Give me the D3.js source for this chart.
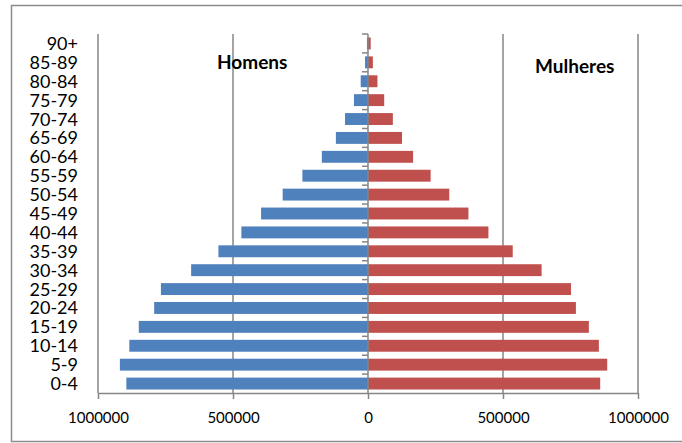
<!DOCTYPE html>
<html>
<head>
<meta charset="utf-8">
<script src="https://cdn.jsdelivr.net/npm/d3@7"></script>
<style>
  html, body { margin: 0; padding: 0; background: #fff; }
  svg { display: block; }
</style>
</head>
<body>
<svg id="chart" width="682" height="443"></svg>
<script>
const ageGroups = ["0-4","5-9","10-14","15-19","20-24","25-29","30-34","35-39","40-44","45-49","50-54","55-59","60-64","65-69","70-74","75-79","80-84","85-89","90+"];
const homens = [895000, 919000, 884000, 849000, 792000, 767000, 655000, 554000, 469000, 396000, 316000, 243000, 171000, 119000, 85000, 52000, 27000, 11000, 4000];
const mulheres = [860000, 886000, 855000, 818000, 770000, 752000, 643000, 536000, 446000, 372000, 301000, 232000, 167000, 126000, 92000, 60000, 35000, 18000, 10000];
const xTicks = [-1000000, -500000, 0, 500000, 1000000];
const seriesNames = ["Homens", "Mulheres"];

const svg = d3.select("#chart");
const W = 682, H = 443;
const plot = { left: 98, right: 638, top: 34, bottom: 393 };

// outer chart border
svg.append("rect")
  .attr("x", 11.5).attr("y", 5.5)
  .attr("width", 680).attr("height", 436)
  .attr("fill", "#fff").attr("stroke", "#8c8c8c").attr("stroke-width", 1.5);

const x = d3.scaleLinear().domain([-1000000, 1000000]).range([plot.left, plot.right]);
const y = d3.scaleBand().domain(ageGroups.slice().reverse()).range([plot.top, plot.bottom]).paddingInner(0.37).paddingOuter(0.185);
const yb = d3.scaleBand().domain(ageGroups.slice().reverse()).range([plot.top, plot.bottom]);

// gridlines
svg.append("g").selectAll("line")
  .data(xTicks.filter(d => d !== 0))
  .join("line")
  .attr("x1", d => x(d)).attr("x2", d => x(d))
  .attr("y1", plot.top).attr("y2", plot.bottom)
  .attr("stroke", "#868686").attr("stroke-width", 1.5);

// bars
const rows = ageGroups.map((g, i) => ({ g, m: homens[i], f: mulheres[i] }));
svg.append("g").selectAll("rect")
  .data(rows).join("rect")
  .attr("x", d => x(-d.m)).attr("width", d => x(0) - x(-d.m))
  .attr("y", d => y(d.g)).attr("height", y.bandwidth())
  .attr("fill", "#4F81BD");
svg.append("g").selectAll("rect")
  .data(rows).join("rect")
  .attr("x", x(0)).attr("width", d => x(d.f) - x(0))
  .attr("y", d => y(d.g)).attr("height", y.bandwidth())
  .attr("fill", "#C0504D");

// x axis
const xAxis = d3.axisBottom(x).tickValues(xTicks).tickSize(6).tickSizeOuter(0)
  .tickFormat(d => String(Math.abs(d)));
const gx = svg.append("g").attr("transform", `translate(0,${plot.bottom})`).call(xAxis);
gx.select(".domain").attr("stroke", "#868686").attr("stroke-width", 1.5);
gx.selectAll(".tick line").attr("stroke", "#868686").attr("stroke-width", 1.5);
gx.selectAll(".tick text")
  .attr("y", 19).attr("dy", "0.71em")
  .attr("font-family", "Lato, 'Open Sans', sans-serif").attr("font-size", 15).attr("fill", "#000");

// vertical category axis at 0
svg.append("line")
  .attr("x1", x(0)).attr("x2", x(0))
  .attr("y1", plot.top).attr("y2", plot.bottom)
  .attr("stroke", "#868686").attr("stroke-width", 1.5);
const boundaries = ageGroups.map(g => yb(g));
svg.append("g").selectAll("line")
  .data(boundaries).join("line")
  .attr("x1", x(0) - 6).attr("x2", x(0))
  .attr("y1", d => d).attr("y2", d => d)
  .attr("stroke", "#868686").attr("stroke-width", 1.5);

// category labels
svg.append("g").selectAll("text")
  .data(ageGroups).join("text")
  .attr("x", 78).attr("y", d => yb(d) + yb.bandwidth() / 2)
  .attr("dy", "0.36em")
  .attr("text-anchor", "end")
  .attr("font-family", "Lato, 'Open Sans', sans-serif").attr("font-size", 18).attr("fill", "#000")
  .text(d => d);

// series labels
svg.append("text").attr("x", 217).attr("y", 69)
  .attr("font-family", "Lato, 'Open Sans', sans-serif").attr("font-weight", "bold").attr("font-size", 19)
  .attr("fill", "#000").text(seriesNames[0]);
svg.append("text").attr("x", 535).attr("y", 73)
  .attr("font-family", "Lato, 'Open Sans', sans-serif").attr("font-weight", "bold").attr("font-size", 19)
  .attr("fill", "#000").text(seriesNames[1]);
</script>
</body>
</html>
